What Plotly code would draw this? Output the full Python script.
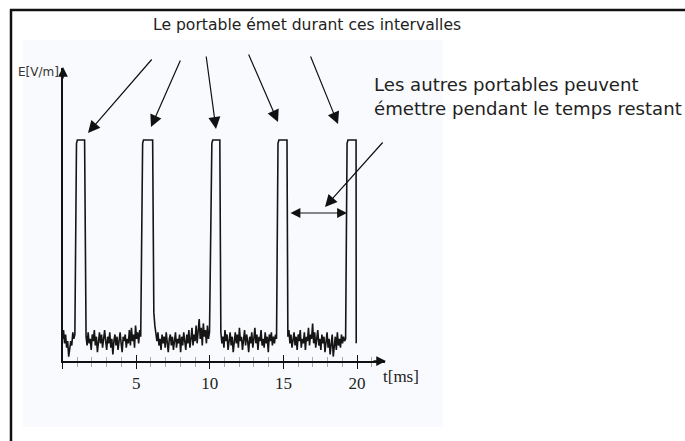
import numpy as np
import plotly.graph_objects as go

W, H = 685, 441

# ---------------- data ----------------
SAMPLE_STEP_MS = 0.07
PEAK = 10.0                      # E level during an emission burst
pulse_rise = [0.95, 5.44, 10.14, 14.63, 19.32]   # ms
pulse_fall = [1.50, 6.12, 10.68, 15.24, 19.93]   # ms
noise_start = [0.0, 1.6, 6.2, 10.75, 15.3]       # ms, start of each noisy stretch
noise_0 = [1.0, 1.4, 0.8, 1.2, 0.6, 0.9, 0.2, 0.5, 0.9, 0.7, 1.3, 1.0, 1.2]
noise_1 = [1.1, 0.7, 1.3, 0.8, 1.0, 0.5, 1.2, 0.9, 1.4, 0.7,
           1.1, 0.4, 1.0, 1.3, 0.8, 1.2, 0.6, 1.0, 1.4, 0.9,
           0.5, 1.1, 0.8, 1.3, 0.6, 1.0, 0.3, 0.9, 1.2, 0.7,
           1.1, 0.5, 1.0, 1.3, 0.8, 0.4, 1.1, 0.9, 1.2, 0.6,
           1.0, 0.8, 1.4, 0.7, 1.5, 0.9, 1.2, 0.6, 1.6, 1.0,
           1.3, 0.8, 1.4, 1.1]
noise_2 = [2.2, 1.6, 1.2, 0.9, 1.3, 0.7, 1.0, 0.5, 1.2, 0.8,
           1.1, 0.6, 1.3, 0.9, 0.4, 1.0, 1.2, 0.7, 1.1, 0.5,
           0.9, 1.3, 0.6, 1.0, 0.8, 1.2, 0.4, 1.1, 0.7, 1.3,
           0.9, 0.5, 1.2, 0.8, 1.4, 0.6, 1.0, 1.5, 0.7, 1.2,
           0.9, 1.6, 0.8, 1.3, 1.9, 1.0, 1.5, 0.7, 1.7, 1.1,
           1.4, 0.8, 1.6, 1.0, 1.3]
noise_3 = [1.3, 0.8, 1.1, 0.6, 1.4, 0.9, 1.2, 0.5, 1.0, 1.3,
           0.7, 1.1, 0.4, 0.9, 1.3, 0.8, 1.2, 0.6, 1.5, 0.9,
           1.1, 0.5, 1.0, 1.4, 0.7, 1.2, 0.9, 0.4, 1.1, 0.8,
           1.3, 0.6, 1.0, 1.5, 0.8, 1.2, 0.5, 1.1, 0.9, 1.4,
           0.7, 1.0, 0.6, 1.3, 0.8, 1.1, 0.4, 1.2, 0.9, 1.3,
           0.7, 1.1, 0.8, 1.2, 1.0]
noise_4 = [1.1, 1.4, 0.8, 1.2, 0.6, 1.0, 1.3, 0.7, 1.1, 0.5,
           1.2, 0.9, 1.4, 0.6, 1.0, 0.8, 1.3, 0.5, 1.1, 0.9,
           1.5, 0.7, 1.2, 1.0, 1.7, 0.8, 1.3, 0.6, 1.1, 1.4,
           0.7, 1.0, 0.5, 1.2, 0.8, 1.1, 0.4, 0.9, 1.3, 0.6,
           1.0, 0.3, 0.8, 1.2, 0.2, 0.9, 1.1, 0.5, 1.3, 0.7,
           1.0, 0.6, 1.2, 0.8, 1.1, 0.9, 1.0]
end_level = 0.8
noise_segments = [noise_0, noise_1, noise_2, noise_3, noise_4]

tick_vals = [0, 5, 10, 15, 20]
tick_text = ["", "5", "10", "15", "20"]

title_top = "Le portable émet durant ces intervalles"
note_right = "Les autres portables peuvent<br>émettre pendant le temps restant"
y_label = "E[V/m]"
x_label = "t[ms]"

# ---------------- build signal ----------------
t_all, e_all = [], []
for k, seg in enumerate(noise_segments):
    ts = noise_start[k] + SAMPLE_STEP_MS * np.arange(len(seg))
    t_all += list(ts)
    e_all += list(seg)
    r, f = pulse_rise[k], pulse_fall[k]
    t_all += [r, r + 0.06, f]
    e_all += [PEAK * 0.985, PEAK, PEAK]
t_all += [pulse_fall[-1] + 0.01]
e_all += [end_level]

# ---------------- geometry helpers (pixels -> paper) ----------------
def fx(px):
    return px / W

def fy(py):
    return 1 - py / H

X0_PX, XEND_PX = 62.5, 385
PX_PER_MS = 14.73
Y0_PX, YTOP_PX = 361, 68
PX_PER_UNIT = 22.1
x_max = (XEND_PX - X0_PX) / PX_PER_MS
y_max = (Y0_PX - YTOP_PX) / PX_PER_UNIT

fig = go.Figure()
fig.add_trace(go.Scatter(x=t_all, y=e_all, mode="lines",
                         line=dict(color="#151515", width=1.6),
                         showlegend=False, hoverinfo="skip"))
fig.add_trace(go.Scatter(x=[None], y=[None], xaxis="x2", showlegend=False))

axis_common = dict(range=[0, x_max], domain=[fx(X0_PX), fx(XEND_PX)],
                   tickvals=tick_vals, showgrid=False, zeroline=False,
                   tickwidth=1.3, tickcolor="#111", ticklen=6)
fig.update_layout(
    width=W, height=H,
    margin=dict(l=0, r=0, t=0, b=0),
    paper_bgcolor="white", plot_bgcolor="rgba(0,0,0,0)",
    xaxis=dict(**axis_common, ticktext=tick_text, ticks="outside",
               showline=True, linecolor="#111", linewidth=1.5,
               tickfont=dict(family="Liberation Serif", size=17, color="#222"),
               ticklabelstandoff=0,
               minor=dict(dtick=1, tick0=0, ticks="outside", ticklen=4,
                          tickcolor="#aaa", tickwidth=1)),
    xaxis2=dict(**axis_common, overlaying="x", anchor="y", ticks="inside",
                showticklabels=False, showline=False,
                minor=dict(dtick=1, tick0=0, ticks="inside", ticklen=4,
                           tickcolor="#aaa", tickwidth=1)),
    yaxis=dict(range=[0, y_max], domain=[fy(Y0_PX), fy(YTOP_PX)],
               showline=True, linecolor="#111", linewidth=1.5,
               showticklabels=False, ticks="", showgrid=False, zeroline=False),
)

# background panel and frame
fig.add_shape(type="rect", xref="paper", yref="paper", layer="below",
              x0=fx(23), x1=fx(443), y0=fy(427), y1=fy(40),
              fillcolor="#f9fafd", line=dict(width=0))
fig.add_shape(type="line", xref="paper", yref="paper",
              x0=fx(10), x1=fx(W + 4), y0=fy(10), y1=fy(10),
              line=dict(color="#111", width=2.5))
fig.add_shape(type="line", xref="paper", yref="paper",
              x0=fx(11), x1=fx(11), y0=fy(9), y1=fy(H + 4),
              line=dict(color="#111", width=2.5))

def arrow(tip, tail, both=False, width=1.2, size=2.0):
    fig.add_annotation(x=fx(tip[0]), y=fy(tip[1]), xref="paper", yref="paper",
                       ax=tail[0] - tip[0], ay=tail[1] - tip[1],
                       axref="pixel", ayref="pixel", text="", showarrow=True,
                       arrowhead=2, arrowsize=size, arrowwidth=width,
                       arrowcolor="#111",
                       arrowside="end+start" if both else "end",
                       startarrowhead=2, startarrowsize=size)

# axis arrowheads
arrow((63, 67), (63, 80), width=1.5, size=1.3)
arrow((386, 361), (372, 361), width=1.5, size=1.3)

# arrows from the top caption to the bursts
for tip, tail in [((88, 133), (153, 58)), ((151, 127), (181, 59)),
                  ((216, 129), (206, 55)), ((278, 122), (248, 53)),
                  ((338, 124), (310, 55))]:
    arrow(tip, tail)
# remaining time
arrow((325, 207), (384, 141))
arrow((347, 213), (289, 213), both=True, width=1.1, size=1.8)

fig.add_annotation(x=fx(307), y=fy(25), xref="paper", yref="paper",
                   text=title_top, showarrow=False,
                   xanchor="center", yanchor="middle",
                   font=dict(family="DejaVu Sans", size=15.6, color="#222"))
fig.add_annotation(x=fx(372), y=fy(96.5), xref="paper", yref="paper",
                   text=note_right, showarrow=False, xanchor="left",
                   yanchor="middle", align="left",
                   font=dict(family="DejaVu Sans", size=18.1, color="#222"))
fig.add_annotation(x=fx(61), y=fy(72), xref="paper", yref="paper",
                   text=y_label, showarrow=False, xanchor="right",
                   yanchor="middle",
                   font=dict(family="DejaVu Sans", size=12, color="#333"))
fig.add_annotation(x=fx(381), y=fy(376), xref="paper", yref="paper",
                   text=x_label, showarrow=False, xanchor="left",
                   yanchor="middle",
                   font=dict(family="Liberation Serif", size=17, color="#222"))

fig.write_html(
    "out.html", config={"displayModeBar": False},
    post_script=("document.body.style.margin='0px';"
                 "document.body.style.overflow='hidden';"
                 "document.documentElement.style.overflow='hidden';"))
